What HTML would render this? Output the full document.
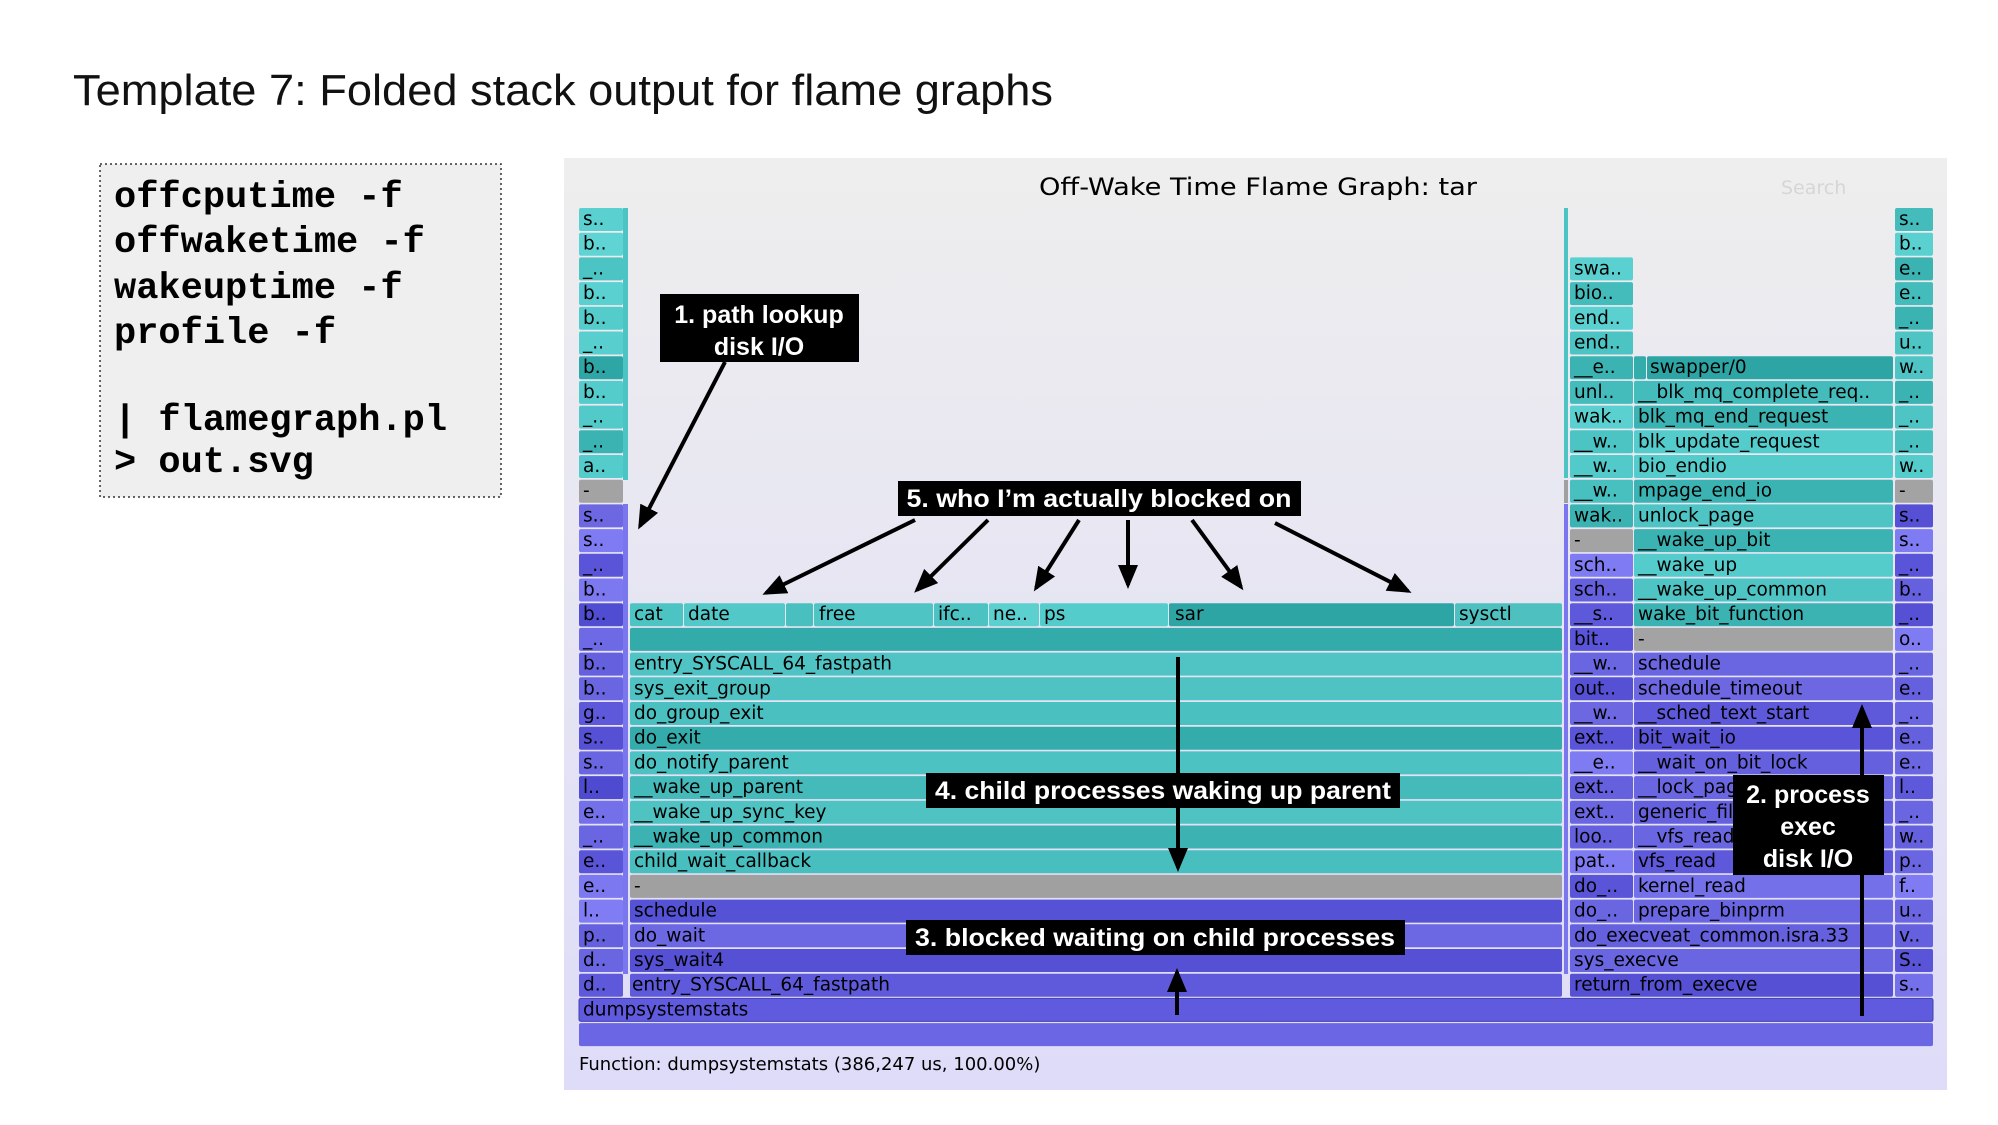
<!DOCTYPE html>
<html><head><meta charset="utf-8"><style>
html,body{margin:0;padding:0;background:#fff;}
svg{display:block;}
.f{font-family:"DejaVu Sans","Liberation Sans",sans-serif;font-size:18.5px;fill:#000;}
.a{font-family:"Liberation Sans",sans-serif;font-weight:bold;font-size:25px;fill:#fff;}
</style></head><body>
<svg width="1998" height="1125" viewBox="0 0 1998 1125" xmlns="http://www.w3.org/2000/svg">
<defs>
<linearGradient id="bg" x1="0" y1="0" x2="0" y2="1"><stop offset="0" stop-color="#eeeeee"/><stop offset="1" stop-color="#dedcf8"/></linearGradient>
<marker id="ah" markerWidth="6" markerHeight="5" refX="5" refY="2.5" orient="auto" markerUnits="strokeWidth"><path d="M0,0 L6,2.5 L0,5 z" fill="#000"/></marker>
</defs>
<rect width="1998" height="1125" fill="#fff"/>
<text x="73" y="105" font-family="Liberation Sans, sans-serif" font-size="44" textLength="980" lengthAdjust="spacingAndGlyphs" fill="#111">Template 7: Folded stack output for flame graphs</text>

<rect x="100" y="164" width="401" height="333" fill="#efefef" stroke="#333" stroke-width="1.5" stroke-dasharray="2,3"/>
<g font-family="Liberation Mono, monospace" font-weight="bold" font-size="37" fill="#000">
<text x="114" y="207">offcputime -f</text>
<text x="114" y="252">offwaketime -f</text>
<text x="114" y="298">wakeuptime -f</text>
<text x="114" y="343">profile -f</text>
<text x="114" y="430">| flamegraph.pl</text>
<text x="114" y="472">&gt; out.svg</text>
</g>

<rect x="564" y="158" width="1383" height="932" fill="url(#bg)"/>
<text x="1258" y="195" text-anchor="middle" font-family="DejaVu Sans, sans-serif" font-size="24" textLength="438" lengthAdjust="spacingAndGlyphs" fill="#000">Off-Wake Time Flame Graph: tar</text>
<text x="1781" y="194" font-family="DejaVu Sans, sans-serif" font-size="19" fill="#d6d6d6">Search</text>

<!-- left column -->
<g class="f">
<rect x="579" y="208" width="44" height="23" rx="2" fill="#5ad0d0"/><text x="583" y="225">s..</text>
<rect x="579" y="232.7" width="44" height="23" rx="2" fill="#60d4d4"/><text x="583" y="249.7">b..</text>
<rect x="579" y="257.4" width="44" height="23" rx="2" fill="#4cc4c4"/><text x="583" y="274.4">_..</text>
<rect x="579" y="282.1" width="44" height="23" rx="2" fill="#5ad0d0"/><text x="583" y="299.1">b..</text>
<rect x="579" y="306.8" width="44" height="23" rx="2" fill="#55cccc"/><text x="583" y="323.8">b..</text>
<rect x="579" y="331.5" width="44" height="23" rx="2" fill="#58cece"/><text x="583" y="348.5">_..</text>
<rect x="579" y="356.2" width="44" height="23" rx="2" fill="#2fa6a6"/><text x="583" y="373.2">b..</text>
<rect x="579" y="380.9" width="44" height="23" rx="2" fill="#55cccc"/><text x="583" y="397.9">b..</text>
<rect x="579" y="405.6" width="44" height="23" rx="2" fill="#52caca"/><text x="583" y="422.6">_..</text>
<rect x="579" y="430.3" width="44" height="23" rx="2" fill="#3cb3b3"/><text x="583" y="447.3">_..</text>
<rect x="579" y="455" width="44" height="23" rx="2" fill="#55cccc"/><text x="583" y="472">a..</text>
<rect x="579" y="479.7" width="44" height="23" rx="2" fill="#a3a3a3"/><text x="583" y="496.7">-</text>
<rect x="579" y="504.4" width="44" height="23" rx="2" fill="#6d68e2"/><text x="583" y="521.4">s..</text>
<rect x="579" y="529.1" width="44" height="23" rx="2" fill="#7f7bf2"/><text x="583" y="546.1">s..</text>
<rect x="579" y="553.8" width="44" height="23" rx="2" fill="#5a55d8"/><text x="583" y="570.8">_..</text>
<rect x="579" y="578.5" width="44" height="23" rx="2" fill="#7c78f0"/><text x="583" y="595.5">b..</text>
<rect x="579" y="603.2" width="44" height="23" rx="2" fill="#514dd2"/><text x="583" y="620.2">b..</text>
<rect x="579" y="627.9" width="44" height="23" rx="2" fill="#6e6ae6"/><text x="583" y="644.9">_..</text>
<rect x="579" y="652.6" width="44" height="23" rx="2" fill="#6560de"/><text x="583" y="669.6">b..</text>
<rect x="579" y="677.3" width="44" height="23" rx="2" fill="#6a66e2"/><text x="583" y="694.3">b..</text>
<rect x="579" y="702" width="44" height="23" rx="2" fill="#5e59da"/><text x="583" y="719">g..</text>
<rect x="579" y="726.7" width="44" height="23" rx="2" fill="#5550d4"/><text x="583" y="743.7">s..</text>
<rect x="579" y="751.4" width="44" height="23" rx="2" fill="#6a66e2"/><text x="583" y="768.4">s..</text>
<rect x="579" y="776.1" width="44" height="23" rx="2" fill="#4f4bd0"/><text x="583" y="793.1">l..</text>
<rect x="579" y="800.8" width="44" height="23" rx="2" fill="#7470ea"/><text x="583" y="817.8">e..</text>
<rect x="579" y="825.5" width="44" height="23" rx="2" fill="#6a66e2"/><text x="583" y="842.5">_..</text>
<rect x="579" y="850.2" width="44" height="23" rx="2" fill="#5a55d8"/><text x="583" y="867.2">e..</text>
<rect x="579" y="874.9" width="44" height="23" rx="2" fill="#7c78f0"/><text x="583" y="891.9">e..</text>
<rect x="579" y="899.6" width="44" height="23" rx="2" fill="#807cf4"/><text x="583" y="916.6">l..</text>
<rect x="579" y="924.3" width="44" height="23" rx="2" fill="#6560de"/><text x="583" y="941.3">p..</text>
<rect x="579" y="949" width="44" height="23" rx="2" fill="#6a66e2"/><text x="583" y="966">d..</text>
<rect x="579" y="973.7" width="44" height="23" rx="2" fill="#5e59da"/><text x="583" y="990.7">d..</text>
</g>
<g fill="#4cc4c4"><rect x="623" y="208" width="5" height="272"/></g>
<g fill="#7a76ee"><rect x="623" y="504" width="5" height="470"/></g>

<!-- main left -->
<g class="f">
<rect x="630" y="603.2" width="53" height="23" rx="2" fill="#4cc4c4"/><text x="634" y="620.2">cat</text>
<rect x="684" y="603.2" width="101" height="23" rx="2" fill="#52c8c8"/><text x="688" y="620.2">date</text>
<rect x="786" y="603.2" width="27" height="23" rx="2" fill="#4abfbf"/>
<rect x="814" y="603.2" width="119" height="23" rx="2" fill="#4ec4c4"/><text x="819" y="620.2">free</text>
<rect x="934" y="603.2" width="54" height="23" rx="2" fill="#4cc2c2"/><text x="938" y="620.2">ifc..</text>
<rect x="989" y="603.2" width="50" height="23" rx="2" fill="#5ccfcf"/><text x="993" y="620.2">ne..</text>
<rect x="1040" y="603.2" width="128" height="23" rx="2" fill="#55cccc"/><text x="1044" y="620.2">ps</text>
<rect x="1169" y="603.2" width="285" height="23" rx="2" fill="#2ea5a5"/><text x="1175" y="620.2">sar</text>
<rect x="1455" y="603.2" width="107" height="23" rx="2" fill="#4ec0c0"/><text x="1459" y="620.2">sysctl</text>
<rect x="630" y="627.9" width="932" height="23" rx="2" fill="#33abab"/>
<rect x="630" y="652.6" width="932" height="23" rx="2" fill="#50c4c4"/><text x="634" y="669.6">entry_SYSCALL_64_fastpath</text>
<rect x="630" y="677.3" width="932" height="23" rx="2" fill="#4fc3c3"/><text x="634" y="694.3">sys_exit_group</text>
<rect x="630" y="702" width="932" height="23" rx="2" fill="#4bc0c0"/><text x="634" y="719">do_group_exit</text>
<rect x="630" y="726.7" width="932" height="23" rx="2" fill="#35acac"/><text x="634" y="743.7">do_exit</text>
<rect x="630" y="751.4" width="932" height="23" rx="2" fill="#4dc2c2"/><text x="634" y="768.4">do_notify_parent</text>
<rect x="630" y="776.1" width="932" height="23" rx="2" fill="#45baba"/><text x="634" y="793.1">__wake_up_parent</text>
<rect x="630" y="800.8" width="932" height="23" rx="2" fill="#4fc2c2"/><text x="634" y="817.8">__wake_up_sync_key</text>
<rect x="630" y="825.5" width="932" height="23" rx="2" fill="#3cb2b2"/><text x="634" y="842.5">__wake_up_common</text>
<rect x="630" y="850.2" width="932" height="23" rx="2" fill="#48bebe"/><text x="634" y="867.2">child_wait_callback</text>
<rect x="630" y="874.9" width="932" height="23" rx="2" fill="#a0a0a0"/><text x="634" y="891.9">-</text>
<rect x="630" y="899.6" width="932" height="23" rx="2" fill="#5552d6"/><text x="634" y="916.6">schedule</text>
<rect x="630" y="924.3" width="932" height="23" rx="2" fill="#6c67e2"/><text x="634" y="941.3">do_wait</text>
<rect x="630" y="949" width="932" height="23" rx="2" fill="#5550d4"/><text x="634" y="966">sys_wait4</text>
<rect x="630" y="973.7" width="932" height="23" rx="2" fill="#5f5adc"/><text x="632" y="990.7">entry_SYSCALL_64_fastpath</text>
<rect x="579" y="998.4" width="1354" height="23" rx="2" fill="#605ade" stroke="#4440b0" stroke-width="1"/><text x="583" y="1015.4">dumpsystemstats</text>
<rect x="579" y="1023.1" width="1354" height="23" rx="2" fill="#6a66e4"/>
</g>
<text x="579" y="1070" font-family="DejaVu Sans, sans-serif" font-size="18" fill="#000">Function: dumpsystemstats (386,247 us, 100.00%)</text>

<!-- middle strip -->
<rect x="1564" y="208" width="4" height="270" fill="#4cc4c4"/>
<rect x="1564" y="480" width="4" height="23" fill="#a0a0a0"/>
<rect x="1564" y="504" width="4" height="470" fill="#7a76ee"/>

<!-- label column -->
<g class="f">
<rect x="1570" y="257.4" width="63" height="23" rx="2" fill="#5ad0d0"/><text x="1574" y="274.4">swa..</text>
<rect x="1570" y="282.1" width="63" height="23" rx="2" fill="#45bcbc"/><text x="1574" y="299.1">bio..</text>
<rect x="1570" y="306.8" width="63" height="23" rx="2" fill="#5ad0d0"/><text x="1574" y="323.8">end..</text>
<rect x="1570" y="331.5" width="63" height="23" rx="2" fill="#4cc4c4"/><text x="1574" y="348.5">end..</text>
<rect x="1570" y="356.2" width="63" height="23" rx="2" fill="#3cb3b3"/><text x="1574" y="373.2">__e..</text>
<rect x="1570" y="380.9" width="63" height="23" rx="2" fill="#45bcbc"/><text x="1574" y="397.9">unl..</text>
<rect x="1570" y="405.6" width="63" height="23" rx="2" fill="#5ad0d0"/><text x="1574" y="422.6">wak..</text>
<rect x="1570" y="430.3" width="63" height="23" rx="2" fill="#4cc4c4"/><text x="1574" y="447.3">__w..</text>
<rect x="1570" y="455" width="63" height="23" rx="2" fill="#52caca"/><text x="1574" y="472">__w..</text>
<rect x="1570" y="479.7" width="63" height="23" rx="2" fill="#48c0c0"/><text x="1574" y="496.7">__w..</text>
<rect x="1570" y="504.4" width="63" height="23" rx="2" fill="#3cb3b3"/><text x="1574" y="521.4">wak..</text>
<rect x="1570" y="529.1" width="63" height="23" rx="2" fill="#a3a3a3"/><text x="1574" y="546.1">-</text>
<rect x="1570" y="553.8" width="63" height="23" rx="2" fill="#7f7bf2"/><text x="1574" y="570.8">sch..</text>
<rect x="1570" y="578.5" width="63" height="23" rx="2" fill="#6560de"/><text x="1574" y="595.5">sch..</text>
<rect x="1570" y="603.2" width="63" height="23" rx="2" fill="#5e59da"/><text x="1574" y="620.2">__s..</text>
<rect x="1570" y="627.9" width="63" height="23" rx="2" fill="#5a55d8"/><text x="1574" y="644.9">bit..</text>
<rect x="1570" y="652.6" width="63" height="23" rx="2" fill="#6a66e2"/><text x="1574" y="669.6">__w..</text>
<rect x="1570" y="677.3" width="63" height="23" rx="2" fill="#5550d4"/><text x="1574" y="694.3">out..</text>
<rect x="1570" y="702" width="63" height="23" rx="2" fill="#6d68e2"/><text x="1574" y="719">__w..</text>
<rect x="1570" y="726.7" width="63" height="23" rx="2" fill="#5a55d8"/><text x="1574" y="743.7">ext..</text>
<rect x="1570" y="751.4" width="63" height="23" rx="2" fill="#7f7bf2"/><text x="1574" y="768.4">__e..</text>
<rect x="1570" y="776.1" width="63" height="23" rx="2" fill="#6560de"/><text x="1574" y="793.1">ext..</text>
<rect x="1570" y="800.8" width="63" height="23" rx="2" fill="#6a66e2"/><text x="1574" y="817.8">ext..</text>
<rect x="1570" y="825.5" width="63" height="23" rx="2" fill="#6560de"/><text x="1574" y="842.5">loo..</text>
<rect x="1570" y="850.2" width="63" height="23" rx="2" fill="#7f7bf2"/><text x="1574" y="867.2">pat..</text>
<rect x="1570" y="874.9" width="63" height="23" rx="2" fill="#5a55d8"/><text x="1574" y="891.9">do_..</text>
<rect x="1570" y="899.6" width="63" height="23" rx="2" fill="#6a66e2"/><text x="1574" y="916.6">do_..</text>
<rect x="1570" y="924.3" width="323" height="23" rx="2" fill="#6560de"/><text x="1574" y="941.3">do_execveat_common.isra.33</text>
<rect x="1570" y="949" width="323" height="23" rx="2" fill="#6a66e2"/><text x="1574" y="966">sys_execve</text>
<rect x="1570" y="973.7" width="323" height="23" rx="2" fill="#5550d4"/><text x="1574" y="990.7">return_from_execve</text>
</g>

<!-- main right -->
<g class="f">
<rect x="1634" y="356.2" width="12" height="23" rx="2" fill="#35acac"/>
<rect x="1647" y="356.2" width="246" height="23" rx="2" fill="#2ea5a5"/><text x="1650" y="373.2">swapper/0</text>
<rect x="1634" y="380.9" width="259" height="23" rx="2" fill="#45bcbc"/><text x="1638" y="397.9">__blk_mq_complete_req..</text>
<rect x="1634" y="405.6" width="259" height="23" rx="2" fill="#3cb3b3"/><text x="1638" y="422.6">blk_mq_end_request</text>
<rect x="1634" y="430.3" width="259" height="23" rx="2" fill="#55cccc"/><text x="1638" y="447.3">blk_update_request</text>
<rect x="1634" y="455" width="259" height="23" rx="2" fill="#55cccc"/><text x="1638" y="472">bio_endio</text>
<rect x="1634" y="479.7" width="259" height="23" rx="2" fill="#3cb3b3"/><text x="1638" y="496.7">mpage_end_io</text>
<rect x="1634" y="504.4" width="259" height="23" rx="2" fill="#4ec4c4"/><text x="1638" y="521.4">unlock_page</text>
<rect x="1634" y="529.1" width="259" height="23" rx="2" fill="#3cb3b3"/><text x="1638" y="546.1">__wake_up_bit</text>
<rect x="1634" y="553.8" width="259" height="23" rx="2" fill="#55cccc"/><text x="1638" y="570.8">__wake_up</text>
<rect x="1634" y="578.5" width="259" height="23" rx="2" fill="#4ec4c4"/><text x="1638" y="595.5">__wake_up_common</text>
<rect x="1634" y="603.2" width="259" height="23" rx="2" fill="#3cb3b3"/><text x="1638" y="620.2">wake_bit_function</text>
<rect x="1634" y="627.9" width="259" height="23" rx="2" fill="#a3a3a3"/><text x="1638" y="644.9">-</text>
<rect x="1634" y="652.6" width="259" height="23" rx="2" fill="#6a66e2"/><text x="1638" y="669.6">schedule</text>
<rect x="1634" y="677.3" width="259" height="23" rx="2" fill="#6d68e2"/><text x="1638" y="694.3">schedule_timeout</text>
<rect x="1634" y="702" width="259" height="23" rx="2" fill="#5e59da"/><text x="1638" y="719">__sched_text_start</text>
<rect x="1634" y="726.7" width="259" height="23" rx="2" fill="#5a55d8"/><text x="1638" y="743.7">bit_wait_io</text>
<rect x="1634" y="751.4" width="259" height="23" rx="2" fill="#6560de"/><text x="1638" y="768.4">__wait_on_bit_lock</text>
<rect x="1634" y="776.1" width="259" height="23" rx="2" fill="#6a66e2"/><text x="1638" y="793.1">__lock_page</text>
<rect x="1634" y="800.8" width="259" height="23" rx="2" fill="#6560de"/><text x="1638" y="817.8">generic_file</text>
<rect x="1634" y="825.5" width="259" height="23" rx="2" fill="#6a66e2"/><text x="1638" y="842.5">__vfs_read</text>
<rect x="1634" y="850.2" width="259" height="23" rx="2" fill="#5e59da"/><text x="1638" y="867.2">vfs_read</text>
<rect x="1634" y="874.9" width="259" height="23" rx="2" fill="#7470ea"/><text x="1638" y="891.9">kernel_read</text>
<rect x="1634" y="899.6" width="259" height="23" rx="2" fill="#6a66e2"/><text x="1638" y="916.6">prepare_binprm</text>
</g>

<!-- right column -->
<g class="f">
<rect x="1895" y="208" width="38" height="23" rx="2" fill="#45bcbc"/><text x="1899" y="225">s..</text>
<rect x="1895" y="232.7" width="38" height="23" rx="2" fill="#5ad0d0"/><text x="1899" y="249.7">b..</text>
<rect x="1895" y="257.4" width="38" height="23" rx="2" fill="#3cb3b3"/><text x="1899" y="274.4">e..</text>
<rect x="1895" y="282.1" width="38" height="23" rx="2" fill="#45bcbc"/><text x="1899" y="299.1">e..</text>
<rect x="1895" y="306.8" width="38" height="23" rx="2" fill="#3cb3b3"/><text x="1899" y="323.8">_..</text>
<rect x="1895" y="331.5" width="38" height="23" rx="2" fill="#4ec4c4"/><text x="1899" y="348.5">u..</text>
<rect x="1895" y="356.2" width="38" height="23" rx="2" fill="#4ec4c4"/><text x="1899" y="373.2">w..</text>
<rect x="1895" y="380.9" width="38" height="23" rx="2" fill="#3cb3b3"/><text x="1899" y="397.9">_..</text>
<rect x="1895" y="405.6" width="38" height="23" rx="2" fill="#4ec4c4"/><text x="1899" y="422.6">_..</text>
<rect x="1895" y="430.3" width="38" height="23" rx="2" fill="#48c0c0"/><text x="1899" y="447.3">_..</text>
<rect x="1895" y="455" width="38" height="23" rx="2" fill="#55cccc"/><text x="1899" y="472">w..</text>
<rect x="1895" y="479.7" width="38" height="23" rx="2" fill="#a3a3a3"/><text x="1899" y="496.7">-</text>
<rect x="1895" y="504.4" width="38" height="23" rx="2" fill="#5550d4"/><text x="1899" y="521.4">s..</text>
<rect x="1895" y="529.1" width="38" height="23" rx="2" fill="#7f7bf2"/><text x="1899" y="546.1">s..</text>
<rect x="1895" y="553.8" width="38" height="23" rx="2" fill="#5a55d8"/><text x="1899" y="570.8">_..</text>
<rect x="1895" y="578.5" width="38" height="23" rx="2" fill="#6560de"/><text x="1899" y="595.5">b..</text>
<rect x="1895" y="603.2" width="38" height="23" rx="2" fill="#5550d4"/><text x="1899" y="620.2">_..</text>
<rect x="1895" y="627.9" width="38" height="23" rx="2" fill="#7f7bf2"/><text x="1899" y="644.9">o..</text>
<rect x="1895" y="652.6" width="38" height="23" rx="2" fill="#6a66e2"/><text x="1899" y="669.6">_..</text>
<rect x="1895" y="677.3" width="38" height="23" rx="2" fill="#6560de"/><text x="1899" y="694.3">e..</text>
<rect x="1895" y="702" width="38" height="23" rx="2" fill="#6a66e2"/><text x="1899" y="719">_..</text>
<rect x="1895" y="726.7" width="38" height="23" rx="2" fill="#6560de"/><text x="1899" y="743.7">e..</text>
<rect x="1895" y="751.4" width="38" height="23" rx="2" fill="#6a66e2"/><text x="1899" y="768.4">e..</text>
<rect x="1895" y="776.1" width="38" height="23" rx="2" fill="#5e59da"/><text x="1899" y="793.1">l..</text>
<rect x="1895" y="800.8" width="38" height="23" rx="2" fill="#6a66e2"/><text x="1899" y="817.8">_..</text>
<rect x="1895" y="825.5" width="38" height="23" rx="2" fill="#6560de"/><text x="1899" y="842.5">w..</text>
<rect x="1895" y="850.2" width="38" height="23" rx="2" fill="#6a66e2"/><text x="1899" y="867.2">p..</text>
<rect x="1895" y="874.9" width="38" height="23" rx="2" fill="#7f7bf2"/><text x="1899" y="891.9">f..</text>
<rect x="1895" y="899.6" width="38" height="23" rx="2" fill="#6a66e2"/><text x="1899" y="916.6">u..</text>
<rect x="1895" y="924.3" width="38" height="23" rx="2" fill="#6560de"/><text x="1899" y="941.3">v..</text>
<rect x="1895" y="949" width="38" height="23" rx="2" fill="#5a55d8"/><text x="1899" y="966">S..</text>
<rect x="1895" y="973.7" width="38" height="23" rx="2" fill="#7470ea"/><text x="1899" y="990.7">s..</text>
</g>

<!-- annotations: arrows -->
<g stroke="#000" stroke-width="4" fill="none" marker-end="url(#ah)">
<line x1="725" y1="362" x2="640" y2="526"/>
<line x1="915" y1="520" x2="766" y2="593"/>
<line x1="988" y1="520" x2="917" y2="590"/>
<line x1="1079" y1="520" x2="1036" y2="588"/>
<line x1="1128" y1="520" x2="1128" y2="585"/>
<line x1="1192" y1="520" x2="1241" y2="587"/>
<line x1="1275" y1="523" x2="1408" y2="591"/>
<line x1="1178" y1="657" x2="1178" y2="868"/>
<line x1="1177" y1="1015" x2="1177" y2="972"/>
<line x1="1862" y1="1016" x2="1862" y2="708"/>
</g>

<!-- annotation boxes -->
<rect x="660" y="294" width="199" height="68" fill="#000"/>
<text class="a" x="759" y="323" text-anchor="middle">1. path lookup</text>
<text class="a" x="759" y="355" text-anchor="middle">disk I/O</text>

<rect x="898" y="481" width="403" height="35" fill="#000"/>
<text class="a" x="1099" y="507" text-anchor="middle" textLength="385" lengthAdjust="spacingAndGlyphs">5. who I’m actually blocked on</text>

<rect x="926" y="773" width="474" height="35" fill="#000"/>
<text class="a" x="1163" y="799" text-anchor="middle" textLength="456" lengthAdjust="spacingAndGlyphs">4. child processes waking up parent</text>

<rect x="906" y="920" width="499" height="35" fill="#000"/>
<text class="a" x="1155" y="946" text-anchor="middle" textLength="480" lengthAdjust="spacingAndGlyphs">3. blocked waiting on child processes</text>

<rect x="1733" y="775" width="151" height="100" fill="#000"/>
<text class="a" x="1808" y="803" text-anchor="middle">2. process</text>
<text class="a" x="1808" y="835" text-anchor="middle">exec</text>
<text class="a" x="1808" y="867" text-anchor="middle">disk I/O</text>
</svg>
</body></html>
